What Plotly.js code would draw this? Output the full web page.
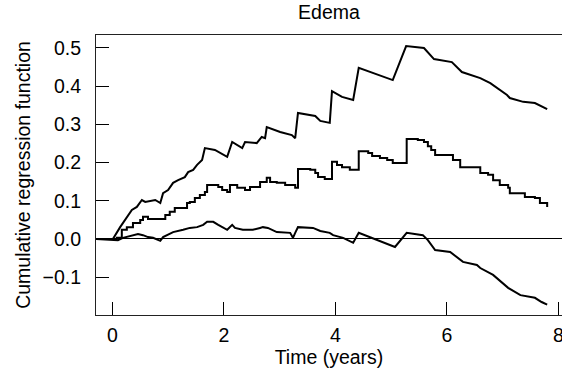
<!DOCTYPE html>
<html>
<head>
<meta charset="utf-8">
<script src="https://cdn.plot.ly/plotly-3.0.1.min.js"></script>
<style>html,body{margin:0;padding:0;background:#fff;}#chart{width:562px;height:376px;}</style>
</head>
<body>
<div id="chart"></div>
<script>
// Estimate (step function)
const estTime = [-0.29, 0.08, 0.17, 0.26, 0.37, 0.50, 0.55, 0.64, 0.95, 1.03, 1.12, 1.34, 1.39, 1.48, 1.57, 1.66, 1.70, 1.90, 1.97, 2.06, 2.11, 2.24, 2.38, 2.47, 2.65, 2.77, 2.83, 2.95, 3.10, 3.28, 3.33, 3.55, 3.64, 3.69, 3.81, 3.94, 4.03, 4.12, 4.26, 4.42, 4.59, 4.66, 4.80, 4.93, 5.03, 5.28, 5.48, 5.59, 5.66, 5.72, 5.79, 6.11, 6.24, 6.60, 6.74, 6.83, 6.95, 7.10, 7.13, 7.40, 7.58, 7.67, 7.80];
const estValue = [0, 0.003, 0.024, 0.031, 0.042, 0.050, 0.058, 0.052, 0.063, 0.071, 0.081, 0.094, 0.097, 0.107, 0.115, 0.123, 0.141, 0.136, 0.128, 0.123, 0.141, 0.134, 0.128, 0.136, 0.149, 0.160, 0.149, 0.147, 0.141, 0.134, 0.183, 0.181, 0.173, 0.162, 0.157, 0.202, 0.194, 0.188, 0.181, 0.230, 0.225, 0.217, 0.212, 0.207, 0.199, 0.262, 0.259, 0.254, 0.243, 0.233, 0.220, 0.207, 0.188, 0.173, 0.168, 0.154, 0.141, 0.134, 0.120, 0.110, 0.107, 0.094, 0.084];

// Upper confidence band
const upTime = [-0.29, 0.01, 0.14, 0.23, 0.35, 0.44, 0.53, 0.59, 0.77, 0.86, 0.91, 1.00, 1.09, 1.18, 1.30, 1.36, 1.45, 1.52, 1.61, 1.66, 1.84, 2.06, 2.15, 2.33, 2.38, 2.59, 2.68, 2.74, 2.77, 3.01, 3.22, 3.28, 3.33, 3.64, 3.73, 3.90, 3.94, 4.12, 4.32, 4.42, 4.62, 4.80, 5.03, 5.27, 5.59, 5.77, 6.09, 6.27, 6.54, 6.60, 6.78, 6.95, 7.08, 7.13, 7.37, 7.58, 7.70, 7.80];
const upValue = [0, 0, 0.031, 0.050, 0.076, 0.084, 0.102, 0.097, 0.102, 0.094, 0.120, 0.128, 0.147, 0.154, 0.162, 0.175, 0.181, 0.194, 0.207, 0.238, 0.233, 0.215, 0.254, 0.238, 0.254, 0.251, 0.267, 0.264, 0.293, 0.280, 0.272, 0.264, 0.330, 0.322, 0.309, 0.304, 0.387, 0.372, 0.364, 0.448, 0.437, 0.429, 0.416, 0.505, 0.500, 0.471, 0.463, 0.437, 0.424, 0.421, 0.408, 0.390, 0.377, 0.369, 0.359, 0.356, 0.348, 0.340];

// Lower confidence band
const loTime = [-0.29, 0.10, 0.19, 0.32, 0.46, 0.55, 0.64, 0.73, 0.86, 0.91, 1.09, 1.27, 1.39, 1.52, 1.63, 1.70, 1.81, 1.90, 2.06, 2.15, 2.20, 2.34, 2.52, 2.65, 2.70, 2.79, 2.95, 3.19, 3.24, 3.28, 3.33, 3.60, 3.73, 3.90, 3.96, 4.14, 4.32, 4.42, 4.62, 4.85, 5.07, 5.28, 5.57, 5.66, 5.79, 6.06, 6.18, 6.29, 6.54, 6.60, 6.83, 6.99, 7.10, 7.32, 7.58, 7.70, 7.80];
const loValue = [0, -0.003, 0.003, 0.008, 0.013, 0.010, 0.005, 0.003, -0.005, 0.005, 0.018, 0.024, 0.029, 0.031, 0.037, 0.045, 0.045, 0.037, 0.024, 0.037, 0.029, 0.024, 0.024, 0.029, 0.031, 0.029, 0.018, 0.016, 0.003, 0.016, 0.031, 0.029, 0.021, 0.016, 0.010, 0.003, -0.010, 0.016, 0.005, -0.008, -0.021, 0.016, 0.010, -0.003, -0.029, -0.034, -0.047, -0.060, -0.068, -0.076, -0.094, -0.115, -0.128, -0.147, -0.154, -0.165, -0.172];

const xTicks = [0, 2, 4, 6, 8];
const yTicks = [-0.1, 0, 0.1, 0.2, 0.3, 0.4, 0.5];
const yTickText = ['\u22120.1', '0.0', '0.1', '0.2', '0.3', '0.4', '0.5'];

const lineStyle = {color: '#000', width: 2};
const traces = [
  {x: upTime, y: upValue, type: 'scatter', mode: 'lines', line: lineStyle, name: 'Upper', hoverinfo: 'skip'},
  {x: estTime, y: estValue, type: 'scatter', mode: 'lines', line: Object.assign({shape: 'hv'}, lineStyle), name: 'Estimate'},
  {x: loTime, y: loValue, type: 'scatter', mode: 'lines', line: lineStyle, name: 'Lower', hoverinfo: 'skip'}
];

const fontFam = 'Liberation Sans, Arial, Helvetica, sans-serif';
const fs = 19.5;
const layout = {
  width: 562, height: 376,
  margin: {l: 96, r: 0, t: 35, b: 61},
  paper_bgcolor: '#fff', plot_bgcolor: '#fff',
  showlegend: false,
  font: {family: fontFam, size: fs, color: '#000'},
  title: {text: 'Edema', font: {size: fs, color: '#000'}, xref: 'paper', x: 0.5, xanchor: 'center', yref: 'container', y: 0.968, yanchor: 'middle'},
  xaxis: {
    range: [-0.293, 8.066], tickvals: xTicks, ticktext: xTicks.map(String),
    ticks: 'inside', ticklen: 13, tickwidth: 1, tickcolor: '#000',
    showline: true, linecolor: '#222', linewidth: 1, mirror: true,
    showgrid: false, zeroline: false,
    ticklabelstandoff: 3, ticklabeloverflow: 'allow',
    title: {text: 'Time (years)', font: {size: fs}, standoff: 4}
  },
  yaxis: {
    range: [-0.199, 0.534], tickvals: yTicks, ticktext: yTickText,
    ticks: 'inside', ticklen: 13, tickwidth: 1, tickcolor: '#000',
    showline: true, linecolor: '#222', linewidth: 1, mirror: true,
    showgrid: false, zeroline: true, zerolinecolor: '#000', zerolinewidth: 1,
    ticklabelstandoff: 10,
    title: {text: 'Cumulative regression function', font: {size: fs}, standoff: 6}
  }
};
Plotly.newPlot('chart', traces, layout, {displayModeBar: false, staticPlot: true});
</script>
</body>
</html>
